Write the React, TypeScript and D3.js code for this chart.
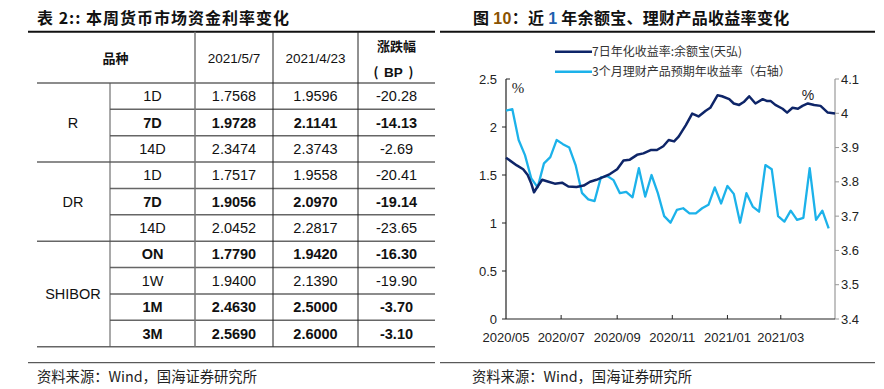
import React from 'react';
import * as d3 from 'd3';

// ---- 表 2 数据 ----
const groups = ['R', 'DR', 'SHIBOR'];
const groupSizes = [3, 3, 4];
const terms = ['1D', '7D', '14D', '1D', '7D', '14D', 'ON', '1W', '1M', '3M'];
const rateMay7 = [1.7568, 1.9728, 2.3474, 1.7517, 1.9056, 2.0452, 1.779, 1.94, 2.463, 2.569];
const rateApr23 = [1.9596, 2.1141, 2.3743, 1.9558, 2.097, 2.2817, 1.942, 2.139, 2.5, 2.6];
const changeBP = [-20.28, -14.13, -2.69, -20.41, -19.14, -23.65, -16.3, -19.9, -3.7, -3.1];
const boldRows = [false, true, false, false, true, false, true, false, true, true];

// ---- 图 10 数据 ----
const yebDates = [
  '2020-05-08', '2020-05-20', '2020-05-27', '2020-06-01', '2020-06-05', '2020-06-08', '2020-06-12',
  '2020-06-17', '2020-06-24', '2020-07-01', '2020-07-09', '2020-07-16', '2020-07-25', '2020-08-02',
  '2020-08-09', '2020-08-16', '2020-08-24', '2020-08-31', '2020-09-08', '2020-09-15', '2020-09-22',
  '2020-09-30', '2020-10-07', '2020-10-15', '2020-10-22', '2020-10-29', '2020-11-04', '2020-11-10',
  '2020-11-15', '2020-11-23', '2020-11-30', '2020-12-07', '2020-12-15', '2020-12-20', '2020-12-28',
  '2021-01-02', '2021-01-10', '2021-01-15', '2021-01-21', '2021-01-26', '2021-02-01', '2021-02-08',
  '2021-02-16', '2021-02-21', '2021-02-25', '2021-03-02', '2021-03-10', '2021-03-15', '2021-03-21',
  '2021-03-27', '2021-04-01', '2021-04-07', '2021-04-14', '2021-04-21', '2021-04-29', '2021-05-07',
];
const yebRate = [
  1.68, 1.6, 1.56, 1.5, 1.41, 1.32, 1.38,
  1.45, 1.43, 1.41, 1.42, 1.38, 1.375, 1.39,
  1.43, 1.45, 1.48, 1.51, 1.56, 1.65, 1.66,
  1.71, 1.725, 1.76, 1.76, 1.8, 1.865, 1.85,
  1.9, 2.02, 2.14, 2.11, 2.17, 2.2, 2.33,
  2.32, 2.29, 2.245, 2.23, 2.26, 2.32, 2.245,
  2.29, 2.27, 2.27, 2.23, 2.19, 2.15, 2.2,
  2.19, 2.22, 2.245, 2.23, 2.22, 2.15, 2.14,
];
// 3个月理财产品预期年收益率, 每周一个值, 自 2020-05-08 起
const wmpStart = '2020-05-08';
const wmpRate = [
  4.008, 4.012, 3.922, 3.878, 3.81, 3.784, 3.854, 3.872, 3.922, 3.91,
  3.9, 3.849, 3.768, 3.749, 3.744, 3.813, 3.817, 3.805, 3.767, 3.771,
  3.755, 3.84, 3.757, 3.82, 3.767, 3.7, 3.681, 3.718, 3.723, 3.708,
  3.708, 3.723, 3.733, 3.784, 3.737, 3.788, 3.765, 3.681, 3.767, 3.728,
  3.713, 3.849, 3.837, 3.7, 3.684, 3.716, 3.689, 3.695, 3.84, 3.689,
  3.716, 3.664,
];
const xTickDates = ['2020-05-08', '2020-07-08', '2020-09-08', '2020-11-08', '2021-01-08', '2021-03-08'];
const leftTicks = [0, 0.5, 1, 1.5, 2, 2.5];
const rightTicks = [3.4, 3.5, 3.6, 3.7, 3.8, 3.9, 4, 4.1];
const legendLabels = ['7日年化收益率:余额宝(天弘)', '3个月理财产品预期年收益率（右轴）'];

const LATIN = '"Liberation Sans", Arial, sans-serif';
const CJK = '"Noto Sans CJK SC", "Liberation Sans", sans-serif';
const NAVY = '#0e2568';
const SKY = '#1cb2ea';

const parse = d3.timeParse('%Y-%m-%d');

const RateTable: React.FC = () => {
  const rowY = d3.scaleLinear().domain([0, 10]).range([83, 346.7]);
  const colX = [37, 110, 195, 273, 358, 435];
  const mid = (i: number) => (colX[i] + colX[i + 1]) / 2;
  const groupStart = groupSizes.map((_, i) => d3.sum(groupSizes.slice(0, i)));
  const groupEnds = new Set(groupStart.map((s, i) => s + groupSizes[i]));

  return (
    <g>
      <text x={37} y={24} fontFamily={CJK} fontWeight={700} fontSize={16} letterSpacing={1} fill="#111">
        表 2:: 本周货币市场资金利率变化
      </text>
      <line x1={28} x2={435} y1={31.7} y2={31.7} stroke="#111" strokeWidth={2} />

      {/* 表头 */}
      <text x={mid(0) + 42} y={58} dy="0.35em" textAnchor="middle" fontFamily={CJK} fontWeight={700} fontSize={13} fill="#111">品种</text>
      <text x={mid(2)} y={58} dy="0.35em" textAnchor="middle" fontFamily={LATIN} fontSize={13.5} fill="#111">2021/5/7</text>
      <text x={mid(3)} y={58} dy="0.35em" textAnchor="middle" fontFamily={LATIN} fontSize={13.5} fill="#111">2021/4/23</text>
      <text x={mid(4)} y={46} dy="0.35em" textAnchor="middle" fontFamily={CJK} fontWeight={700} fontSize={13} fill="#111">涨跌幅</text>
      <text x={376} y={72} dy="0.35em" textAnchor="middle" fontFamily={CJK} fontWeight={700} fontSize={13} fill="#111">(</text>
      <text x={393.5} y={72} dy="0.35em" textAnchor="middle" fontFamily={LATIN} fontWeight={700} fontSize={13.5} fill="#111">BP</text>
      <text x={411} y={72} dy="0.35em" textAnchor="middle" fontFamily={CJK} fontWeight={700} fontSize={13} fill="#111">)</text>

      {/* 横线 */}
      <line x1={37} x2={435} y1={83} y2={83} stroke="#666" strokeWidth={1.5} />
      {terms.map((_, i) => {
        const y = rowY(i + 1);
        const full = groupEnds.has(i + 1);
        return <line key={`h-${i}`} x1={full ? 37 : 110} x2={435} y1={y} y2={y} stroke="#666" strokeWidth={1.5} />;
      })}

      {/* 竖线 */}
      <line x1={110} x2={110} y1={83} y2={rowY(10)} stroke="#555" strokeWidth={1} />
      <line x1={195} x2={195} y1={31.7} y2={rowY(10)} stroke="#777" strokeWidth={1.5} />
      <line x1={273} x2={273} y1={31.7} y2={rowY(10)} stroke="#222" strokeWidth={1} />
      <line x1={358} x2={358} y1={31.7} y2={rowY(10)} stroke="#222" strokeWidth={1} />

      {groups.map((g, i) => (
        <text key={g} x={73} y={(rowY(groupStart[i]) + rowY(groupStart[i] + groupSizes[i])) / 2} dy="0.35em"
          textAnchor="middle" fontFamily={LATIN} fontSize={14.5} fill="#111">{g}</text>
      ))}

      {terms.map((t, i) => {
        const y = (rowY(i) + rowY(i + 1)) / 2;
        const fw = boldRows[i] ? 700 : 400;
        const cells = [t, rateMay7[i].toFixed(4), rateApr23[i].toFixed(4), changeBP[i].toFixed(2)];
        return cells.map((c, j) => (
          <text key={`c-${i}-${j}`} x={mid(j + 1)} y={y} dy="0.35em" textAnchor="middle"
            fontFamily={LATIN} fontWeight={fw} fontSize={14.5} fill="#111">{c}</text>
        ));
      })}

      <line x1={28} x2={435} y1={362.7} y2={362.7} stroke="#333" strokeWidth={1} />
      <text x={37} y={377} dy="0.35em" fontFamily={CJK} fontSize={14.3} fill="#222">资料来源：Wind，国海证券研究所</text>
    </g>
  );
};

const YieldChart: React.FC = () => {
  const x = d3.scaleTime().domain([parse('2020-05-08')!, parse('2021-05-07')!]).range([506, 835]);
  const yL = d3.scaleLinear().domain([0, 2.5]).range([319, 79]);
  const yR = d3.scaleLinear().domain([3.4, 4.1]).range([319, 79]);

  const yebData = yebDates.map((d, i) => ({ date: parse(d)!, v: yebRate[i] }));
  const wmpData = wmpRate.map((v, i) => ({ date: d3.timeDay.offset(parse(wmpStart)!, 7 * i), v }));

  const lineL = d3.line<{ date: Date; v: number }>().x(d => x(d.date)).y(d => yL(d.v));
  const lineR = d3.line<{ date: Date; v: number }>().x(d => x(d.date)).y(d => yR(d.v));
  const fmtX = d3.timeFormat('%Y/%m');
  const fmtR = d3.format('~g');

  return (
    <g>
      <text x={473} y={24} fontFamily={CJK} fontWeight={700} fontSize={16} letterSpacing={0.3} fill="#111">
        图 <tspan fill="#8a5200" fontFamily={LATIN}>10</tspan>：近 <tspan fill="#1f5fae" fontFamily={LATIN}>1</tspan> 年余额宝、理财产品收益率变化
      </text>
      <line x1={440} x2={875} y1={31.7} y2={31.7} stroke="#111" strokeWidth={2} />

      {/* 图例 */}
      {legendLabels.map((l, i) => (
        <g key={l}>
          <line x1={555} x2={592} y1={51.7 + i * 20} y2={51.7 + i * 20} stroke={i === 0 ? NAVY : SKY} strokeWidth={2.5} />
          <text x={592} y={51.7 + i * 20} dy="0.35em" fontFamily={CJK} fontSize={12} fill="#333">{l}</text>
        </g>
      ))}

      {/* 左轴 */}
      <line x1={506} x2={506} y1={yL(2.5)} y2={yL(0)} stroke="#222" strokeWidth={1.2} />
      {leftTicks.map(t => (
        <g key={`l-${t}`}>
          {t === 2.5
            ? <line x1={506} x2={510} y1={yL(t)} y2={yL(t)} stroke="#222" strokeWidth={1} />
            : <line x1={502} x2={506} y1={yL(t)} y2={yL(t)} stroke="#222" strokeWidth={1} />}
          <text x={497} y={yL(t)} dy="0.35em" textAnchor="end" fontFamily={LATIN} fontSize={13} fill="#222">{t}</text>
        </g>
      ))}
      <text x={518} y={88} dy="0.35em" textAnchor="middle" fontFamily='"Liberation Serif", serif' fontSize={15} fill="#222">%</text>

      {/* 右轴 */}
      <line x1={835} x2={835} y1={yR(4.1)} y2={yR(3.4)} stroke="#999" strokeWidth={1.2} />
      {rightTicks.map(t => (
        <g key={`r-${t}`}>
          <line x1={835} x2={839} y1={yR(t)} y2={yR(t)} stroke="#999" strokeWidth={1} />
          <text x={841} y={yR(t)} dy="0.35em" fontFamily={LATIN} fontSize={13} fill="#222">{fmtR(t)}</text>
        </g>
      ))}
      <text x={808} y={95} dy="0.35em" textAnchor="middle" fontFamily={LATIN} fontSize={14} fill="#222">%</text>

      {/* X 轴 */}
      <line x1={506} x2={835} y1={319} y2={319} stroke="#222" strokeWidth={1.2} />
      {xTickDates.map((d, i) => {
        const xx = x(parse(d)!);
        return (
          <g key={d}>
            {i > 0 && <line x1={xx} x2={xx} y1={315} y2={319} stroke="#222" strokeWidth={1} />}
            <text x={xx} y={337} dy="0.35em" textAnchor="middle" fontFamily={LATIN} fontSize={13} fill="#222">{fmtX(parse(d)!)}</text>
          </g>
        );
      })}

      <path d={lineR(wmpData) || ''} fill="none" stroke={SKY} strokeWidth={2.3} strokeLinejoin="round" />
      <path d={lineL(yebData) || ''} fill="none" stroke={NAVY} strokeWidth={2.5} strokeLinejoin="round" />

      <line x1={440} x2={875} y1={362.7} y2={362.7} stroke="#333" strokeWidth={1} />
      <text x={472} y={377} dy="0.35em" fontFamily={CJK} fontSize={14.3} fill="#222">资料来源：Wind，国海证券研究所</text>
    </g>
  );
};

export default function App() {
  return (
    <svg width={884} height={389} style={{ position: 'absolute', left: 0, top: 0, background: '#fff' }}>
      <rect width={884} height={389} fill="#fff" />
      <RateTable />
      <YieldChart />
    </svg>
  );
}
